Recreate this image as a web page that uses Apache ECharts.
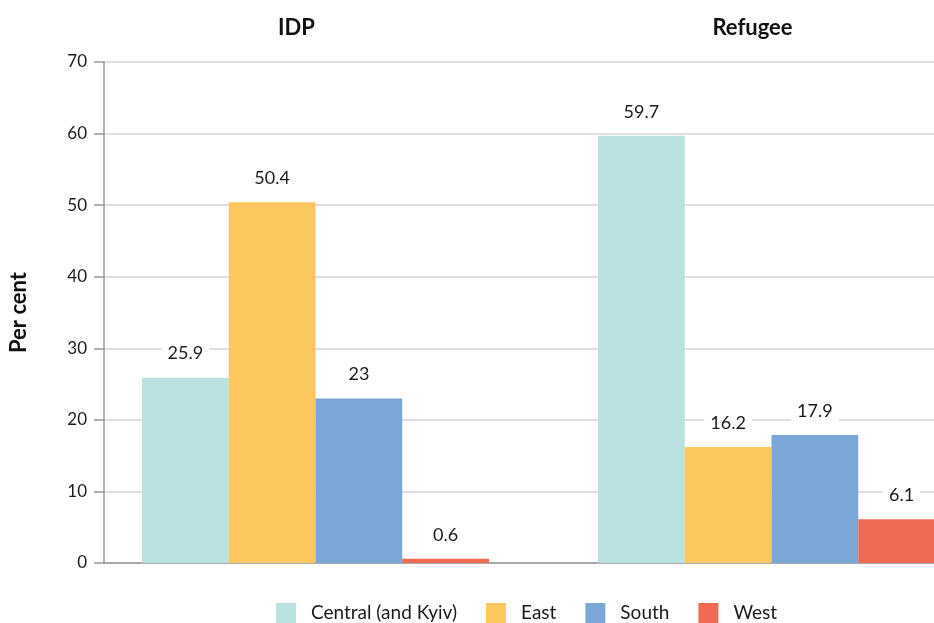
<!DOCTYPE html>
<html>
<head>
<meta charset="utf-8">
<script src="https://cdn.jsdelivr.net/npm/echarts@6/dist/echarts.min.js"></script>
<style>
  html, body { margin: 0; padding: 0; background: #fff; }
  #chart { width: 934px; height: 623px; }
</style>
</head>
<body>
<div id="chart"></div>
<script>
// Share of respondents by region of origin, per displacement group
const groups = ['IDP', 'Refugee'];
const regions = ['Central (and Kyiv)', 'East', 'South', 'West'];
const central = [25.9, 59.7];
const east = [50.4, 16.2];
const south = [23, 17.9];
const west = [0.6, 6.1];
const yTicks = { min: 0, max: 70, interval: 10 };

const colors = ['#b9e2e0', '#fcc75f', '#7ba7d7', '#ee6a52'];
const font = 'Lato, "Open Sans", sans-serif';
const textColor = '#1a1a1a';

const seriesValues = [central, east, south, west];

const chart = echarts.init(document.getElementById('chart'), null, { renderer: 'canvas' });

chart.setOption({
  animation: false,
  color: colors,
  textStyle: { fontFamily: font, color: textColor },
  grid: [
    // frame: value axis, gridlines and baseline
    { left: 104, right: 0, top: 62, bottom: 60 },
    // bar groups: one point per group, bars spread around it
    { left: 315.5, width: 456, top: 62, bottom: 60 }
  ],
  legend: {
    data: regions,
    left: 271,
    top: 598,
    icon: 'rect',
    itemWidth: 20,
    itemHeight: 20,
    itemGap: 29,
    textStyle: { fontFamily: font, fontSize: 19, color: textColor, padding: [0, 0, 0, 10] }
  },
  xAxis: [
    {
      gridIndex: 0,
      type: 'category',
      data: groups,
      position: 'bottom',
      axisLine: { show: true, lineStyle: { color: '#999', width: 1.5 } },
      axisTick: { show: false },
      axisLabel: { show: false },
      splitLine: { show: false }
    },
    {
      gridIndex: 1,
      type: 'category',
      data: groups,
      boundaryGap: false,
      position: 'top',
      axisLine: { show: false },
      axisTick: { show: false },
      axisLabel: {
        fontFamily: font,
        fontSize: 22,
        fontWeight: 'bold',
        color: '#111',
        margin: 23,
        padding: [0, 38, 0, 0]
      },
      splitLine: { show: false }
    }
  ],
  yAxis: [
    {
      gridIndex: 0,
      type: 'value',
      min: yTicks.min,
      max: yTicks.max,
      interval: yTicks.interval,
      name: 'Per cent',
      nameLocation: 'middle',
      nameGap: 74,
      nameTextStyle: { fontFamily: font, fontSize: 22, fontWeight: 'bold', color: '#111' },
      axisLine: { show: true, lineStyle: { color: '#999', width: 1.5 } },
      axisTick: { show: true, length: 10, lineStyle: { color: '#999', width: 1.5 } },
      axisLabel: { fontFamily: font, fontSize: 17, color: textColor, margin: 17 },
      splitLine: { show: true, lineStyle: { color: '#d4d4d4', width: 1.5 } }
    },
    {
      gridIndex: 1,
      type: 'value',
      min: yTicks.min,
      max: yTicks.max,
      interval: yTicks.interval,
      show: false,
      splitLine: { show: false }
    }
  ],
  series: regions.map((name, i) => ({
    name: name,
    type: 'bar',
    xAxisIndex: 1,
    yAxisIndex: 1,
    clip: false,
    barWidth: 86.75,
    barGap: '0%',
    data: seriesValues[i],
    itemStyle: { color: colors[i] },
    label: {
      show: true,
      position: 'top',
      distance: 13,
      fontFamily: font,
      fontSize: 18,
      color: textColor,
      backgroundColor: '#fff',
      padding: [2, 6]
    }
  }))
});
</script>
</body>
</html>
